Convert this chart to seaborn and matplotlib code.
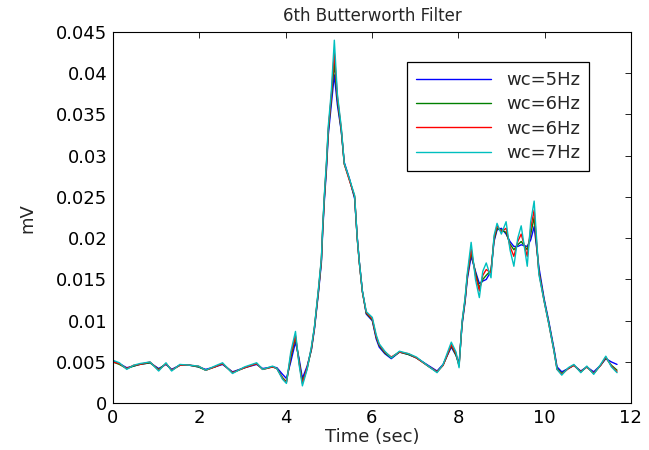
import numpy as np
import pandas as pd
import matplotlib
import matplotlib.pyplot as plt
import seaborn as sns

matplotlib.use('Agg')

# time axis [sec]
time_sec = [0.00, 0.15, 0.32, 0.48, 0.62, 0.86, 1.06, 1.23, 1.36, 1.55,
            1.78, 1.98, 2.15, 2.36, 2.54, 2.77, 3.05, 3.33, 3.47, 3.70,
            3.80, 3.93, 4.02, 4.12, 4.23, 4.31, 4.39, 4.50, 4.60, 4.67,
            4.76, 4.83, 4.86, 4.90, 4.95, 4.99, 5.06, 5.13, 5.20, 5.29,
            5.36, 5.48, 5.60, 5.66, 5.71, 5.78, 5.87, 6.01, 6.10, 6.17,
            6.30, 6.45, 6.64, 6.85, 7.03, 7.33, 7.51, 7.65, 7.84, 7.95,
            8.02, 8.09, 8.16, 8.21, 8.30, 8.40, 8.49, 8.57, 8.65, 8.76,
            8.83, 8.90, 9.00, 9.11, 9.20, 9.29, 9.38, 9.46, 9.60, 9.68,
            9.76, 9.87, 9.99, 10.10, 10.22, 10.29, 10.40, 10.55, 10.68, 10.84,
            10.98, 11.14, 11.30, 11.42, 11.55, 11.68]

# filtered signals [mV]
wc5 = [.0051, .0048, .0043, .0045, .0047, .0049, .0042, .0047, .0041, .0046,
       .0046, .0044, .0041, .0044, .0047, .0038, .0043, .0047, .0042, .0044,
       .0043, .0035, .0030, .0050, .0074, .0055, .0030, .0045, .0065, .0090,
       .0133, .0170, .0207, .0246, .0285, .0325, .0362, .0398, .0362, .0330,
       .0292, .0272, .0248, .0202, .0171, .0136, .0108, .0100, .0078, .0068,
       .0060, .0054, .0062, .0059, .0055, .0045, .0039, .0047, .0068, .0058,
       .0048, .0095, .0123, .0150, .0178, .0160, .0145, .0148, .0150, .0160,
       .0196, .0210, .0212, .0205, .0196, .0190, .0190, .0192, .0190, .0198,
       .0214, .0165, .0127, .0099, .0066, .0044, .0038, .0042, .0046, .0039,
       .0044, .0038, .0046, .0054, .0050, .0047]

wc6a = [.0050, .0047, .0042, .0045, .0047, .0049, .0041, .0048, .0040, .0046,
        .0046, .0044, .0040, .0044, .0048, .0037, .0043, .0048, .0041, .0044,
        .0042, .0031, .0026, .0055, .0080, .0052, .0026, .0042, .0066, .0092,
        .0135, .0173, .0210, .0250, .0290, .0330, .0370, .0412, .0368, .0331,
        .0290, .0271, .0250, .0200, .0170, .0135, .0109, .0101, .0080, .0070,
        .0061, .0055, .0062, .0059, .0055, .0044, .0038, .0046, .0070, .0058,
        .0046, .0097, .0125, .0153, .0183, .0158, .0140, .0150, .0155, .0161,
        .0198, .0212, .0210, .0207, .0193, .0186, .0192, .0196, .0186, .0205,
        .0225, .0160, .0125, .0097, .0064, .0042, .0036, .0042, .0046, .0038,
        .0044, .0036, .0046, .0055, .0046, .0040]

wc6b = [.0050, .0048, .0042, .0046, .0047, .0050, .0040, .0048, .0040, .0046,
        .0046, .0045, .0040, .0044, .0048, .0037, .0043, .0048, .0041, .0044,
        .0042, .0030, .0025, .0058, .0082, .0050, .0024, .0043, .0067, .0092,
        .0136, .0174, .0211, .0251, .0292, .0332, .0373, .0425, .0372, .0333,
        .0290, .0270, .0251, .0200, .0170, .0135, .0110, .0102, .0081, .0071,
        .0062, .0056, .0062, .0060, .0055, .0044, .0038, .0046, .0071, .0060,
        .0045, .0098, .0126, .0154, .0187, .0155, .0136, .0155, .0162, .0158,
        .0200, .0215, .0208, .0212, .0190, .0178, .0196, .0205, .0178, .0212,
        .0234, .0158, .0124, .0096, .0063, .0041, .0035, .0042, .0046, .0038,
        .0044, .0036, .0046, .0056, .0045, .0038]

wc7 = [.0052, .0049, .0041, .0046, .0048, .0050, .0039, .0049, .0039, .0047,
       .0046, .0045, .0040, .0045, .0049, .0036, .0044, .0049, .0041, .0045,
       .0042, .0029, .0024, .0062, .0087, .0048, .0021, .0041, .0069, .0093,
       .0138, .0176, .0214, .0254, .0295, .0336, .0378, .0440, .0375, .0335,
       .0291, .0272, .0252, .0201, .0171, .0136, .0111, .0104, .0083, .0072,
       .0063, .0055, .0063, .0060, .0056, .0044, .0037, .0047, .0074, .0062,
       .0043, .0099, .0128, .0157, .0195, .0150, .0128, .0160, .0170, .0152,
       .0203, .0218, .0205, .0220, .0186, .0166, .0200, .0215, .0166, .0220,
       .0245, .0156, .0124, .0096, .0063, .0041, .0034, .0043, .0047, .0037,
       .0045, .0035, .0047, .0057, .0044, .0037]

series_labels = ['wc=5Hz', 'wc=6Hz', 'wc=6Hz', 'wc=7Hz']
series_colours = ['#0000ff', '#008000', '#ff0000', '#00bfbf']

x_ticks = [0, 2, 4, 6, 8, 10, 12]
y_ticks = [0, 0.005, 0.01, 0.015, 0.02, 0.025, 0.03, 0.035, 0.04, 0.045]
y_tick_labels = ['0', '0.005', '0.01', '0.015', '0.02', '0.025',
                 '0.03', '0.035', '0.04', '0.045']

df = pd.DataFrame({'time': time_sec, 'wc5': wc5, 'wc6a': wc6a,
                   'wc6b': wc6b, 'wc7': wc7})

sns.set_style('white')
plt.rcParams['font.family'] = ['DejaVu Sans']

fig, ax = plt.subplots(figsize=(6.49, 4.5), dpi=100)
fig.subplots_adjust(left=0.174, right=0.972, top=0.929, bottom=0.104)

for col, label, colour in zip(['wc5', 'wc6a', 'wc6b', 'wc7'], series_labels, series_colours):
    sns.lineplot(data=df, x='time', y=col, color=colour, label=label,
                 linewidth=1.0, ax=ax)

ax.set_xlim(0, 12)
ax.set_ylim(0, 0.045)
ax.set_xticks(x_ticks)
ax.set_yticks(y_ticks)
ax.set_yticklabels(y_tick_labels)
ax.tick_params(direction='in', length=4, width=0.6, top=True, right=True,
               labelsize=13, colors='black', pad=4)

for spine in ax.spines.values():
    spine.set_color('black')
    spine.set_linewidth(0.8)

ax.set_xlabel('Time (sec)', fontsize=13, labelpad=1)
ax.set_ylabel('mV', fontsize=13, labelpad=14)
ax.set_title('6th Butterworth Filter', fontsize=12, pad=8)

leg = ax.legend(loc='upper right', bbox_to_anchor=(0.919, 0.919), borderaxespad=0,
                fancybox=False, frameon=True, edgecolor='black', framealpha=1,
                handlelength=4.2, labelspacing=0.35, fontsize=13, borderpad=0.5,
                handletextpad=0.8)
leg.get_frame().set_linewidth(0.9)

plt.savefig('out.png', dpi=100)
